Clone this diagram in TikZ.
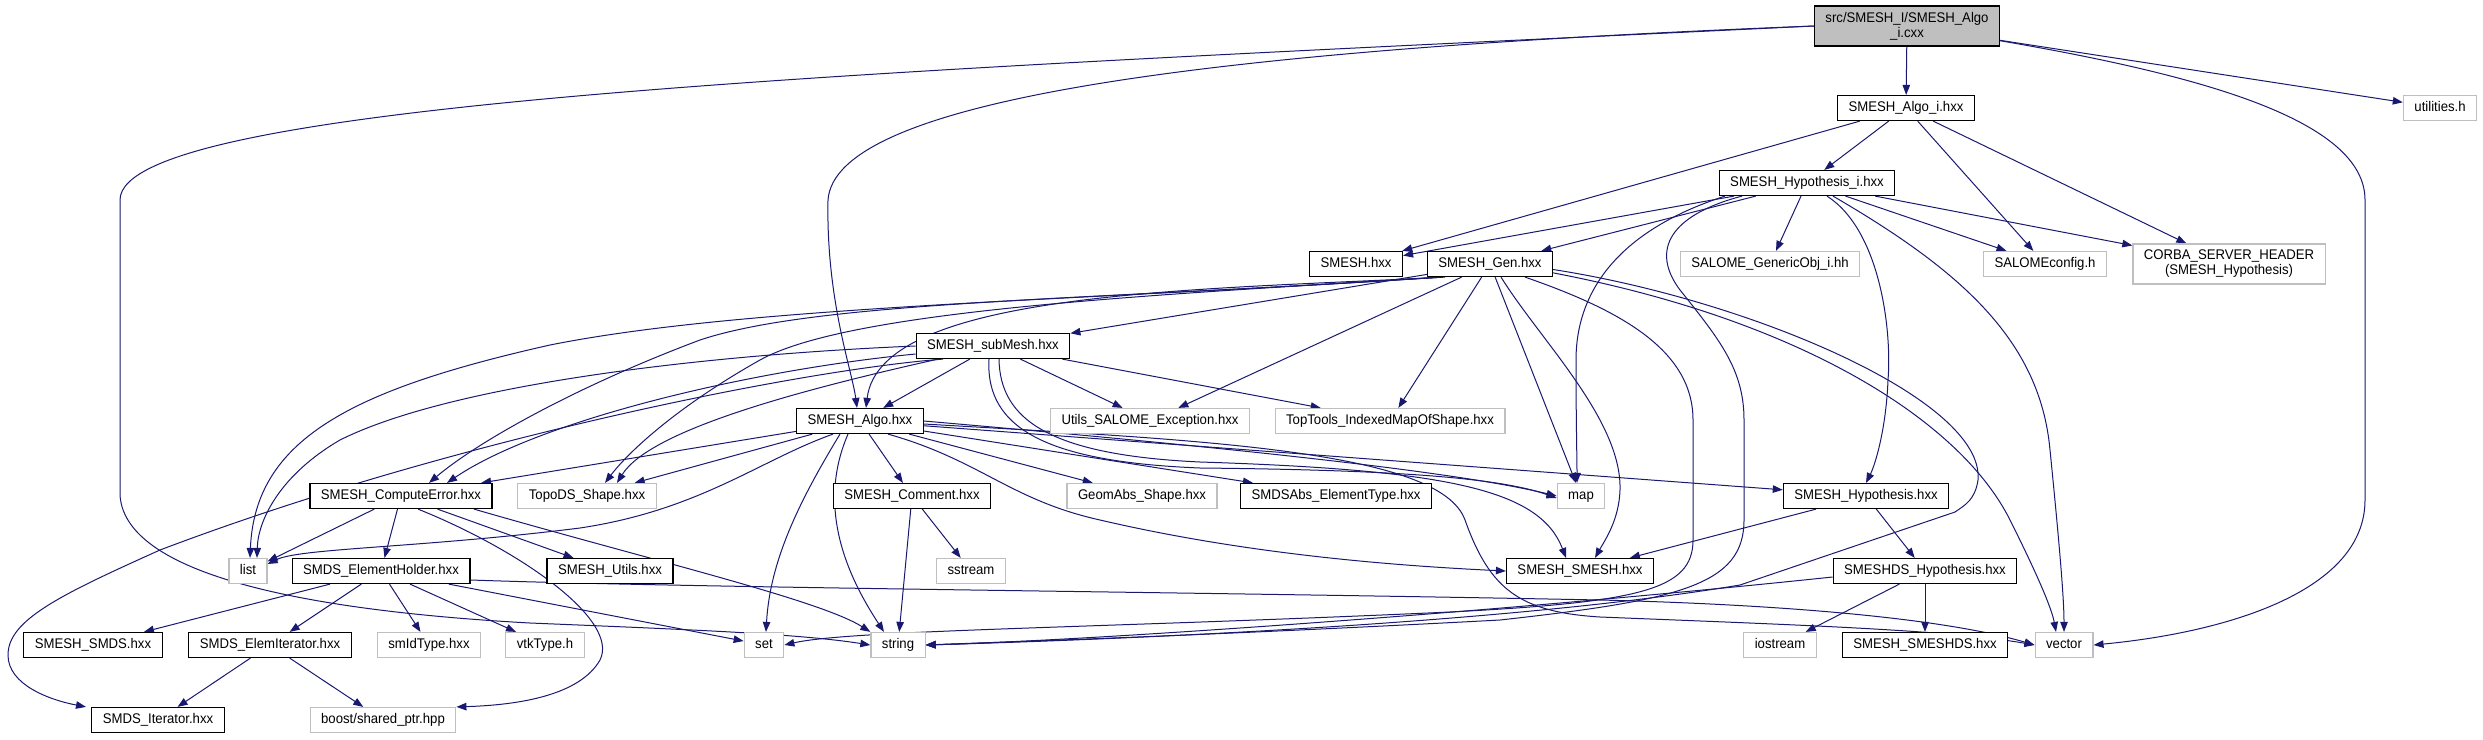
\documentclass[tikz,border=0pt]{standalone}
\usepackage{fontspec}
\newfontfamily\graphfont{Liberation Sans}[FakeStretch=0.94]
\usetikzlibrary{arrows.meta,backgrounds}
\definecolor{edgeblue}{RGB}{25,25,112}
\definecolor{extgray}{RGB}{191,191,191}

\begin{document}
\begin{tikzpicture}[
	x=1pt, y=1pt,
	every node/.style = {font={\graphfont\fontsize{14pt}{15pt}\selectfont}},
	boxbase/.style  = {rectangle, line width=1.2pt, fill=white, inner xsep=11pt, inner ysep=0pt},
	incfile/.style  = {boxbase, draw=black, minimum height=25pt, text height=10pt, text depth=3pt},
	sysfile/.style  = {incfile, draw=extgray},
	rootfile/.style = {boxbase, draw=black, fill=extgray, minimum height=40pt, align=center},
	sysnote/.style  = {boxbase, draw=extgray, minimum height=40pt, align=center},
	dep/.style      = {draw=edgeblue, line width=1pt, -{Triangle[length=10pt,width=7.5pt]}}
	]
	\useasboundingbox (0,0) rectangle (2483,-739);
	
	% ===================== Files =====================
	\node[rootfile] (root)  at (1907,-26)  {src/SMESH\_I/SMESH\_Algo\\\_i.cxx};
	\node[incfile]  (algoi) at (1906,-108) {SMESH\_Algo\_i.hxx};
	\node[sysfile]  (util)  at (2440,-108) {utilities.h};
	\node[incfile]  (hypi)  at (1807,-183) {SMESH\_Hypothesis\_i.hxx};
	
	\node[incfile] (smesh) at (1356,-264) {SMESH.hxx};
	\node[incfile] (gen)   at (1490,-264) {SMESH\_Gen.hxx};
	\node[sysfile] (gobj)  at (1770,-264) {SALOME\_GenericObj\_i.hh};
	\node[sysfile] (scfg)  at (2045,-264) {SALOMEconfig.h};
	\node[sysnote] (corba) at (2229,-264) {CORBA\_SERVER\_HEADER\\(SMESH\_Hypothesis)};
	
	\node[incfile] (submesh) at (993,-346)  {SMESH\_subMesh.hxx};
	\node[incfile] (algo)    at (860,-421)  {SMESH\_Algo.hxx};
	\node[sysfile] (uexc)    at (1150,-421) {Utils\_SALOME\_Exception.hxx};
	\node[sysfile] (ttmap)   at (1390,-421) {TopTools\_IndexedMapOfShape.hxx};
	
	\node[incfile] (cerr)     at (401,-496)  {SMESH\_ComputeError.hxx};
	\node[sysfile] (topods)   at (587,-496)  {TopoDS\_Shape.hxx};
	\node[incfile] (comment)  at (912,-496)  {SMESH\_Comment.hxx};
	\node[sysfile] (geomabs)  at (1142,-496) {GeomAbs\_Shape.hxx};
	\node[incfile] (elemtype) at (1336,-496) {SMDSAbs\_ElementType.hxx};
	\node[sysfile] (map)      at (1581,-496) {map};
	\node[incfile] (hyp)      at (1866,-496) {SMESH\_Hypothesis.hxx};
	
	\node[sysfile] (list)       at (248,-571)  {list};
	\node[incfile] (eholder)    at (381,-571)  {SMDS\_ElementHolder.hxx};
	\node[incfile] (utils)      at (610,-571)  {SMESH\_Utils.hxx};
	\node[sysfile] (sstream)    at (971,-571)  {sstream};
	\node[incfile] (smeshsmesh) at (1580,-571) {SMESH\_SMESH.hxx};
	\node[incfile] (dshyp)      at (1925,-571) {SMESHDS\_Hypothesis.hxx};
	
	\node[incfile] (smds)     at (93,-645)   {SMESH\_SMDS.hxx};
	\node[incfile] (eiter)    at (270,-645)  {SMDS\_ElemIterator.hxx};
	\node[sysfile] (smid)     at (429,-645)  {smIdType.hxx};
	\node[sysfile] (vtk)      at (545,-645)  {vtkType.h};
	\node[sysfile] (set)      at (764,-645)  {set};
	\node[sysfile] (string)   at (898,-645)  {string};
	\node[sysfile] (iostream) at (1780,-645) {iostream};
	\node[incfile] (smeshds)  at (1925,-645) {SMESH\_SMESHDS.hxx};
	\node[sysfile] (vector)   at (2064,-645) {vector};
	
	\node[incfile] (iter)  at (158,-720) {SMDS\_Iterator.hxx};
	\node[sysfile] (boost) at (383,-720) {boost/shared\_ptr.hpp};
	
	\begin{pgfonlayer}{background}
		% ===================== Source file =====================
		\draw[dep] (root) -- (algoi);
		\draw[dep] (root) -- (util);
		\draw[dep] (root.-9) .. controls (2200,-75) and (2365,-120) .. (2365,-200) -- (2365,-500) .. controls (2365,-590) and (2230,-632) .. (vector.east);
		\draw[dep] (root.west) .. controls (1200,-50) and (835,-100) .. (828,-200) .. controls (826,-300) and (852,-370) .. ([xshift=-3pt]algo.north);
		\draw[dep] (root.west) .. controls (900,-70) and (120,-100) .. (120,-200) -- (120,-495) .. controls (125,-580) and (330,-612) .. (530,-623) .. controls (700,-630) and (800,-634) .. (string.west);
		
		% ===================== SMESH_Algo_i.hxx =====================
		\draw[dep] (algoi) -- (smesh);
		\draw[dep] (algoi) -- (hypi);
		\draw[dep] (algoi) -- (scfg);
		\draw[dep] (algoi) -- (corba);
		
		% ===================== SMESH_Hypothesis_i.hxx =====================
		\draw[dep] (hypi) -- (smesh);
		\draw[dep] (hypi) -- (gen);
		\draw[dep] (hypi) -- (gobj);
		\draw[dep] (hypi) -- (scfg);
		\draw[dep] (hypi) -- (corba);
		\draw[dep] ([xshift=20pt]hypi.south) .. controls (1880,-230) and (1892,-330) .. (1888,-380) .. controls (1886,-430) and (1875,-465) .. (hyp.north);
		\draw[dep] ([xshift=26pt]hypi.south) .. controls (1960,-270) and (2040,-340) .. (2050,-450) .. controls (2060,-550) and (2064,-600) .. (vector.north);
		\draw[dep] ([xshift=-82pt]hypi.south) .. controls (1620,-230) and (1576,-290) .. (1576,-360) .. controls (1576,-420) and (1577,-460) .. ([xshift=-4pt]map.north);
		\draw[dep] ([xshift=-65pt]hypi.south) .. controls (1670,-215) and (1650,-250) .. (1680,-290) .. controls (1720,-340) and (1744,-370) .. (1744,-420) -- (1744,-520) .. controls (1744,-585) and (1680,-600) .. (1500,-620) .. controls (1200,-636) and (1000,-642) .. (string.east);
		
		% ===================== SMESH_Gen.hxx =====================
		\draw[dep] (gen) -- (submesh);
		\draw[dep] (gen) -- (uexc);
		\draw[dep] (gen) -- (ttmap);
		\draw[dep] (gen) -- (map);
		\draw[dep] ([xshift=-45pt]gen.south) .. controls (1200,-290) and (880,-290) .. ([xshift=6pt]algo.north);
		\draw[dep] ([xshift=-50pt]gen.south) .. controls (1100,-300) and (750,-305) .. (550,-345) .. controls (350,-390) and (255,-440) .. ([xshift=2pt]list.north);
		\draw[dep] ([xshift=-48pt]gen.south) .. controls (1100,-300) and (820,-300) .. (700,-340) .. controls (580,-385) and (480,-440) .. ([xshift=28pt]cerr.north);
		\draw[dep] ([xshift=-47pt]gen.south) .. controls (1150,-295) and (850,-310) .. (760,-360) .. controls (680,-405) and (630,-450) .. ([xshift=18pt]topods.north);
		\draw[dep] ([xshift=11pt]gen.south) .. controls (1540,-340) and (1622,-420) .. (1620,-490) .. controls (1619,-520) and (1605,-540) .. ([xshift=15pt]smeshsmesh.north);
		\draw[dep] ([xshift=35pt]gen.south) .. controls (1620,-310) and (1693,-350) .. (1693,-420) -- (1693,-540) .. controls (1693,-590) and (1640,-602) .. (1450,-612) .. controls (1100,-628) and (850,-630) .. (set.east);
		\draw[dep] (gen.-5) .. controls (1750,-300) and (1985,-400) .. (1978,-480) .. controls (1975,-500) and (1965,-505) .. (1955,-512) -- (1740,-585) .. controls (1500,-625) and (1100,-640) .. (string.east);
		\draw[dep] (gen.-8) .. controls (1800,-320) and (1960,-420) .. (2010,-520) .. controls (2040,-580) and (2052,-610) .. ([xshift=-8pt]vector.north);
		
		% ===================== SMESH_subMesh.hxx =====================
		\draw[dep] (submesh) -- (algo);
		\draw[dep] (submesh) -- (uexc);
		\draw[dep] (submesh) -- (ttmap);
		\draw[dep] (submesh.west) .. controls (700,-355) and (450,-385) .. (340,-440) .. controls (280,-475) and (258,-520) .. ([xshift=9pt]list.north);
		\draw[dep] ([yshift=-8pt]submesh.west) .. controls (750,-370) and (540,-420) .. ([xshift=46pt]cerr.north);
		\draw[dep] ([xshift=-55pt]submesh.south) .. controls (800,-390) and (650,-430) .. ([xshift=30pt]topods.north);
		\draw[dep] ([xshift=-50pt]submesh.south) .. controls (800,-370) and (450,-440) .. (160,-550) .. controls (60,-595) and (8,-620) .. (8,-655) .. controls (8,-685) and (50,-700) .. ([xshift=-72pt]iter.north);
		\draw[dep] ([xshift=-4pt]submesh.south) .. controls (985,-430) and (1050,-462) .. (1200,-468) .. controls (1400,-470) and (1500,-478) .. ([yshift=-2pt]map.west);
		\draw[dep] ([xshift=6pt]submesh.south) .. controls (1000,-420) and (1050,-455) .. (1200,-462) .. controls (1450,-470) and (1540,-490) .. ([xshift=-14pt]smeshsmesh.north);
		
		% ===================== SMESH_Algo.hxx =====================
		\draw[dep] (algo) -- (cerr);
		\draw[dep] (algo) -- (topods);
		\draw[dep] (algo) -- (comment);
		\draw[dep] (algo) -- (geomabs);
		\draw[dep] (algo) -- (elemtype);
		\draw[dep] (algo) -- (hyp);
		\draw[dep] ([xshift=-27pt]algo.south) .. controls (760,-460) and (700,-510) .. (580,-528) .. controls (420,-548) and (300,-548) .. ([yshift=7pt]list.east);
		\draw[dep] ([xshift=-20pt]algo.south) .. controls (800,-500) and (770,-560) .. ([xshift=2pt]set.north);
		\draw[dep] ([xshift=-12pt]algo.south) .. controls (815,-510) and (850,-580) .. ([xshift=-14pt]string.north);
		\draw[dep] (algo.east) .. controls (1200,-445) and (1450,-470) .. (map.west);
		\draw[dep] ([xshift=28pt]algo.south) .. controls (980,-460) and (1010,-500) .. (1100,-520) .. controls (1250,-555) and (1400,-566) .. (smeshsmesh.west);
		\draw[dep] ([yshift=-3pt]algo.east) .. controls (1200,-440) and (1440,-450) .. (1465,-520) .. controls (1490,-590) and (1520,-612) .. (1600,-617) .. controls (1800,-625) and (1950,-630) .. (vector.west);
		
		% ===================== SMESH_Comment.hxx =====================
		\draw[dep] (comment) -- (string);
		\draw[dep] (comment) -- (sstream);
		
		% ===================== SMESH_ComputeError.hxx =====================
		\draw[dep] (cerr) -- (list);
		\draw[dep] (cerr) -- (eholder);
		\draw[dep] (cerr) -- (utils);
		\draw[dep] ([xshift=17pt]cerr.south) .. controls (520,-550) and (620,-620) .. (600,-660) .. controls (580,-695) and (520,-705) .. (boost.north east);
		\draw[dep] ([xshift=73pt]cerr.south) .. controls (650,-560) and (820,-600) .. (string.north west);
		
		% ===================== SMDS_ElementHolder.hxx =====================
		\draw[dep] (eholder) -- (smds);
		\draw[dep] (eholder) -- (eiter);
		\draw[dep] (eholder) -- (smid);
		\draw[dep] (eholder) -- (vtk);
		\draw[dep] (eholder) -- (set);
		\draw[dep] ([yshift=-9pt]eholder.east) .. controls (700,-588) and (1200,-592) .. (1600,-600) .. controls (1800,-605) and (1950,-620) .. (vector.west);
		
		% ===================== SMDS_ElemIterator.hxx =====================
		\draw[dep] (eiter) -- (iter);
		\draw[dep] (eiter) -- (boost);
		
		% ===================== SMESH_Hypothesis.hxx / SMESHDS_Hypothesis.hxx =====================
		\draw[dep] (hyp) -- (smeshsmesh);
		\draw[dep] (hyp) -- (dshyp);
		\draw[dep] (dshyp) -- (iostream);
		\draw[dep] (dshyp) -- (smeshds);
		\draw[dep] ([yshift=-6pt]dshyp.west) .. controls (1500,-612) and (1100,-640) .. (string.east);
	\end{pgfonlayer}
	
\end{tikzpicture}
\end{document}
